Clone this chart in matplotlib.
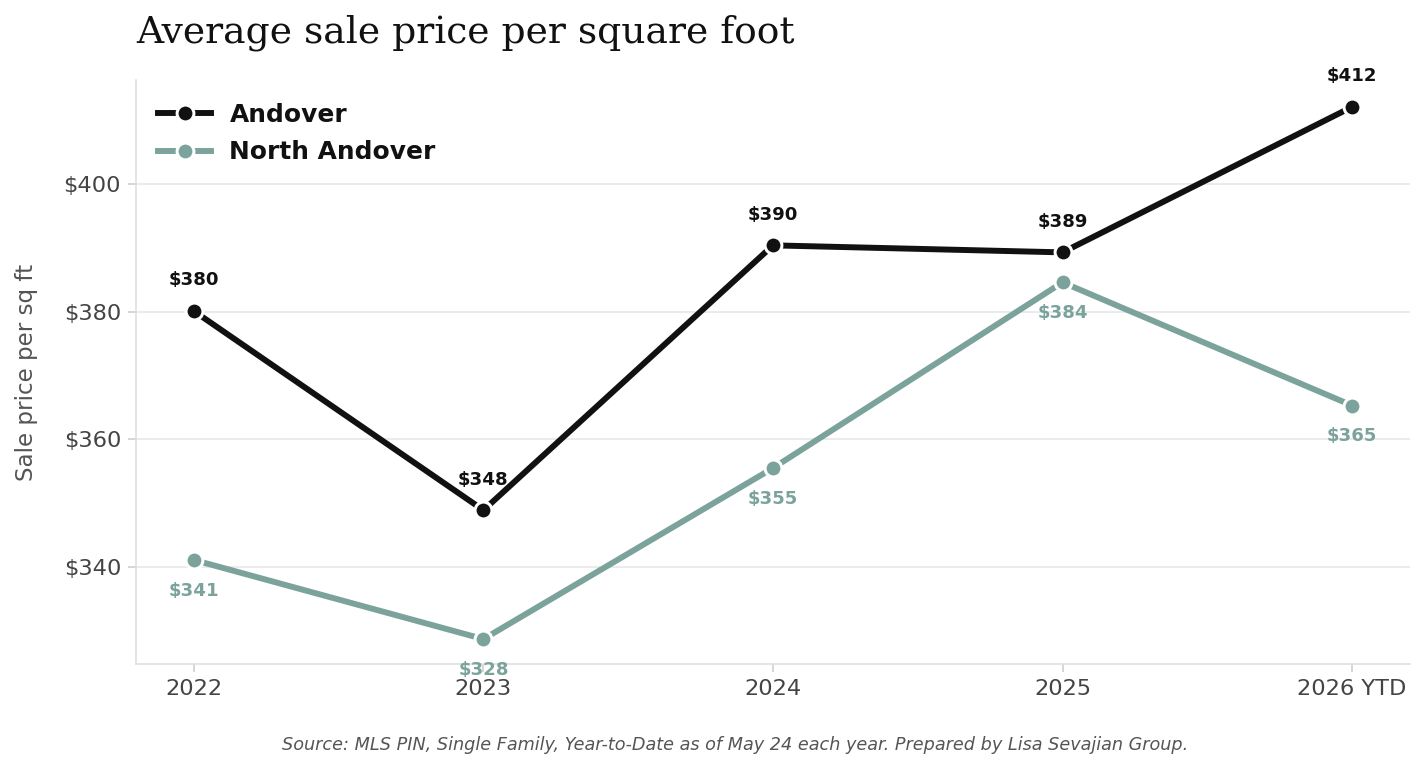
import matplotlib.pyplot as plt
import numpy as np

years = ["2022", "2023", "2024", "2025", "2026 YTD"]
andover = [380.1, 348.9, 390.4, 389.3, 412.1]
north_andover = [341.1, 328.7, 355.5, 384.6, 365.3]

c_andover = "#111111"
c_north = "#7ba39c"

fig = plt.figure(figsize=(10, 770 / 142.5), dpi=142.5)
ax = fig.add_axes([0.0954, 0.1377, 0.8941, 0.7583])

x = np.arange(len(years))
ax.plot(x, andover, color=c_andover, lw=3, marker="o", ms=8.5,
        mec="white", mew=1.5, label="Andover", zorder=3)
ax.plot(x, north_andover, color=c_north, lw=3, marker="o", ms=8.5,
        mec="white", mew=1.5, label="North Andover", zorder=3)

# point labels: Andover above, North Andover below
for xi, v in zip(x, andover):
    ax.annotate(f"${int(v)}", (xi, v), xytext=(0, 15.5), textcoords="offset points",
                ha="center", va="center", fontsize=9.2, fontweight="bold", color=c_andover)
for xi, v in zip(x, north_andover):
    ax.annotate(f"${int(v)}", (xi, v), xytext=(0, -15.5), textcoords="offset points",
                ha="center", va="center", fontsize=9.2, fontweight="bold", color=c_north)

ax.set_xlim(-0.2, 4.2)
ax.set_ylim(324.8, 416.3)
ax.set_xticks(x)
ax.set_xticklabels(years)
ax.set_yticks([340, 360, 380, 400])
ax.set_yticklabels([f"${t}" for t in [340, 360, 380, 400]])
ax.tick_params(axis="both", labelsize=11.4, labelcolor="#444444", color="#cccccc", length=4)
ax.grid(axis="y", color="#e6e6e6", lw=0.8)
ax.set_axisbelow(True)
for s in ["top", "right"]:
    ax.spines[s].set_visible(False)
for s in ["left", "bottom"]:
    ax.spines[s].set_color("#dddddd")

ax.set_ylabel("Sale price per sq ft", fontsize=11.6, color="#555555", labelpad=13)
ax.set_title("Average sale price per square foot", loc="left", family="DejaVu Serif",
             fontsize=19, color="#111111", pad=19)

leg = ax.legend(loc="upper left", frameon=False, prop={"weight": "bold", "size": 12.6},
                handlelength=2.1, handletextpad=0.75, borderaxespad=0.5,
                labelspacing=0.55)
for t in leg.get_texts():
    t.set_color("#111111")

fig.text(0.516, 0.032, "Source: MLS PIN, Single Family, Year-to-Date as of May 24 each year. "
         "Prepared by Lisa Sevajian Group.", ha="center", va="center",
         fontsize=8.9, style="italic", color="#555555")

fig.savefig("out.png", dpi=142.5)
